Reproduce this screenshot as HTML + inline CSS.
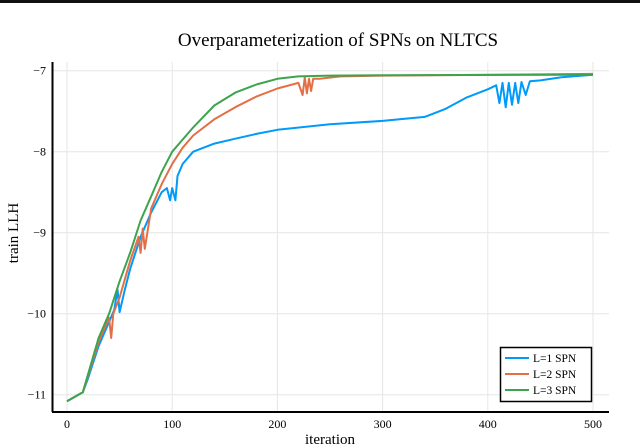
<!DOCTYPE html>
<html><head><meta charset="utf-8"><style>
body{margin:0;background:#fff;}
svg{display:block;font-family:"Liberation Serif",serif;}
</style></head><body>
<svg width="640" height="445">
<rect x="0" y="0" width="640" height="3" fill="#111"/>
<text x="338" y="46" font-size="19" text-anchor="middle">Overparameterization of SPNs on NLTCS</text>
<g id="grid"></g>
<g id="series"></g>
<line x1="52.5" y1="62" x2="52.5" y2="412" stroke="#000" stroke-width="2"/>
<line x1="52" y1="412" x2="609" y2="412" stroke="#000" stroke-width="2"/>
<g id="ticks" font-size="12"></g>
<text x="330" y="444" font-size="15" text-anchor="middle">iteration</text>
<text transform="translate(18,233) rotate(-90)" font-size="15" text-anchor="middle">train LLH</text>
<g>
<rect x="500.5" y="347.5" width="91" height="54" fill="#fff" stroke="#000" stroke-width="1.5"/>
<g><line x1="505" y1="358" x2="529" y2="358" stroke="#009af9" stroke-width="2"/><text x="533" y="362" font-size="11.5">L=1 SPN</text></g>
<g><line x1="505" y1="374" x2="529" y2="374" stroke="#e26f46" stroke-width="2"/><text x="533" y="378" font-size="11.5">L=2 SPN</text></g>
<g><line x1="505" y1="390" x2="529" y2="390" stroke="#3da44d" stroke-width="2"/><text x="533" y="394" font-size="11.5">L=3 SPN</text></g>
</g>
</svg>
<script>
const xTicks=[0,100,200,300,400,500];
const yTicks=[-7,-8,-9,-10,-11];
const yTickLabels=["−7","−8","−9","−10","−11"];
const l1Iter=[0,15,20,30,40,45,48,50,55,60,70,80,90,95,98,100,103,105,110,120,140,160,180,200,250,300,340,360,380,400,408,411,414,417,420,423,426,429,432,436,440,450,470,500];
const l1Val=[-11.08,-10.97,-10.8,-10.4,-10.1,-9.95,-9.7,-9.98,-9.7,-9.45,-9.05,-8.75,-8.5,-8.45,-8.6,-8.45,-8.6,-8.3,-8.15,-8.0,-7.9,-7.84,-7.78,-7.73,-7.66,-7.62,-7.57,-7.47,-7.33,-7.23,-7.18,-7.4,-7.15,-7.45,-7.15,-7.42,-7.15,-7.4,-7.14,-7.3,-7.13,-7.12,-7.08,-7.05];
const l2Iter=[0,15,30,40,42,44,50,60,68,70,72,74,80,90,100,110,120,140,160,180,200,220,224,226,228,230,232,234,240,260,300,500];
const l2Val=[-11.08,-10.97,-10.35,-10.05,-10.3,-10.0,-9.8,-9.35,-9.05,-9.25,-8.95,-9.2,-8.7,-8.4,-8.15,-7.95,-7.8,-7.6,-7.45,-7.32,-7.22,-7.15,-7.3,-7.08,-7.28,-7.1,-7.25,-7.1,-7.1,-7.07,-7.06,-7.04];
const l3Iter=[0,15,30,40,50,60,70,80,90,100,110,120,140,160,180,200,220,250,300,500];
const l3Val=[-11.08,-10.97,-10.3,-10.0,-9.6,-9.25,-8.85,-8.55,-8.25,-8.0,-7.85,-7.7,-7.43,-7.27,-7.17,-7.1,-7.07,-7.06,-7.055,-7.05];
const X=v=>67+v*(593-67)/500;
const Y=v=>70.7+(-7-v)*81;
const NS="http://www.w3.org/2000/svg";
const grid=document.getElementById('grid'),ticks=document.getElementById('ticks'),ser=document.getElementById('series');
function mk(tag,attrs,parent){const e=document.createElementNS(NS,tag);for(const k in attrs)e.setAttribute(k,attrs[k]);parent.appendChild(e);return e;}
xTicks.forEach(t=>{
 const g=mk('line',{x1:X(t),x2:X(t),y1:62,y2:412,stroke:'#e6e6e6','stroke-width':1},grid);
 
 
 const tx=mk('text',{x:X(t),y:428,'text-anchor':'middle'},ticks);
 tx.textContent=t;
 
 
});
yTicks.forEach((t,i)=>{
 const g=mk('line',{x1:52,x2:609,y1:Y(t),y2:Y(t),stroke:'#e6e6e6','stroke-width':1},grid);
 
 
 const tx=mk('text',{x:46,y:Y(t)+4,'text-anchor':'end'},ticks);
 tx.textContent=yTickLabels[i];
 
 
});
function line(xs,ys,color,name){
 const d=xs.map((x,i)=>(i?'L':'M')+X(x).toFixed(1)+','+Y(ys[i]).toFixed(1)).join('');
 const p=mk('path',{d:d,fill:'none',stroke:color,'stroke-width':2,'stroke-linejoin':'round'},ser);
 
 
}
line(l1Iter,l1Val,'#009af9','series-l1');
line(l2Iter,l2Val,'#e26f46','series-l2');
line(l3Iter,l3Val,'#3da44d','series-l3');
</script>
</body></html>
